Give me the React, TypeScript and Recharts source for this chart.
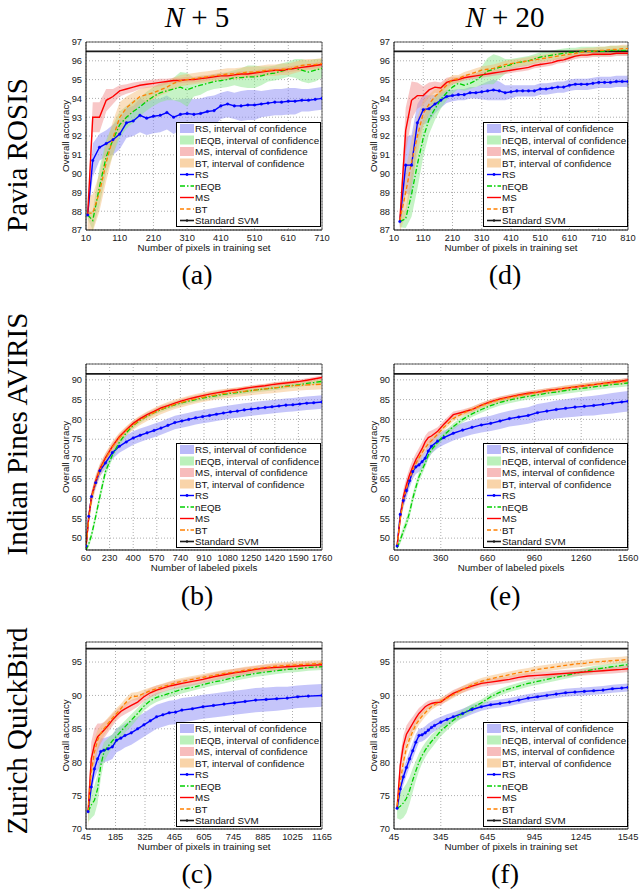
import React from 'react';
import { ComposedChart, Line, Area, XAxis, YAxis, CartesianGrid, ReferenceLine } from 'recharts';

// ---------------- data ----------------
// (a) Pavia ROSIS, N+5
const aX = [15, 30, 50, 70, 90, 110, 130, 150, 170, 190, 210, 230, 250, 270, 290, 310, 330, 350, 370, 390, 410, 430, 450, 470, 490, 510, 530, 550, 570, 590, 610, 630, 650, 670, 690, 710];
const aRS = [87.8, 90.7, 91.4, 91.6, 91.8, 92.1, 92.7, 92.8, 93.1, 92.95, 93.05, 93.1, 93.25, 93.0, 93.15, 93.2, 93.15, 93.2, 93.3, 93.35, 93.6, 93.7, 93.6, 93.6, 93.65, 93.65, 93.7, 93.75, 93.8, 93.8, 93.85, 93.85, 93.9, 93.9, 93.95, 94.0];
const aRSs = [0.2, 0.9, 0.7, 0.7, 0.8, 0.8, 0.8, 0.8, 0.9, 0.9, 0.9, 0.9, 0.9, 0.9, 0.8, 0.8, 0.8, 0.8, 0.8, 0.8, 0.7, 0.7, 0.7, 0.8, 0.8, 0.8, 0.7, 0.7, 0.7, 0.7, 0.7, 0.7, 0.6, 0.6, 0.6, 0.6];
const aNE = [87.8, 87.5, 89.3, 90.9, 91.8, 92.6, 93.0, 93.3, 93.55, 93.85, 94.1, 94.3, 94.4, 94.5, 94.6, 94.45, 94.6, 94.7, 94.8, 94.9, 94.95, 95.0, 95.1, 95.1, 95.15, 95.15, 95.2, 95.3, 95.35, 95.45, 95.55, 95.6, 95.5, 95.4, 95.5, 95.6];
const aNEs = [0.2, 0.5, 1.0, 0.9, 0.8, 0.7, 0.6, 0.6, 0.5, 0.5, 0.5, 0.5, 0.5, 0.6, 0.8, 0.9, 0.5, 0.5, 0.4, 0.4, 0.4, 0.4, 0.4, 0.5, 0.6, 0.6, 0.5, 0.4, 0.4, 0.4, 0.4, 0.5, 0.6, 0.6, 0.6, 0.5];
const aMS = [87.8, 93.0, 93.0, 93.9, 94.1, 94.4, 94.5, 94.6, 94.7, 94.75, 94.8, 94.85, 94.9, 94.95, 94.95, 95.0, 95.0, 95.05, 95.1, 95.15, 95.2, 95.2, 95.25, 95.3, 95.3, 95.35, 95.4, 95.45, 95.5, 95.5, 95.55, 95.6, 95.65, 95.7, 95.75, 95.8];
const aMSs = [0.2, 0.8, 0.8, 0.6, 0.4, 0.3, 0.25, 0.25, 0.2, 0.2, 0.2, 0.2, 0.15, 0.15, 0.15, 0.15, 0.15, 0.15, 0.15, 0.15, 0.15, 0.15, 0.15, 0.15, 0.15, 0.15, 0.15, 0.15, 0.15, 0.15, 0.15, 0.15, 0.15, 0.15, 0.15, 0.15];
const aBT = [87.9, 87.9, 89.0, 90.6, 91.9, 93.0, 93.5, 93.8, 94.1, 94.2, 94.3, 94.45, 94.6, 94.8, 94.95, 95.0, 95.05, 95.1, 95.15, 95.2, 95.25, 95.3, 95.3, 95.35, 95.4, 95.4, 95.45, 95.5, 95.5, 95.55, 95.55, 95.65, 95.75, 95.8, 95.8, 95.85];
const aBTs = [0.9, 1.0, 1.0, 1.0, 0.9, 0.8, 0.6, 0.5, 0.4, 0.4, 0.35, 0.3, 0.3, 0.3, 0.3, 0.3, 0.3, 0.3, 0.3, 0.3, 0.3, 0.3, 0.3, 0.3, 0.3, 0.3, 0.3, 0.3, 0.3, 0.3, 0.3, 0.3, 0.3, 0.3, 0.3, 0.3];
const aXT = [10, 110, 210, 310, 410, 510, 610, 710];

// (d) Pavia ROSIS, N+20
const dX = [30, 50, 70, 90, 110, 130, 150, 170, 190, 210, 230, 250, 270, 290, 310, 330, 350, 370, 390, 410, 430, 450, 470, 490, 510, 530, 550, 570, 590, 610, 630, 650, 670, 690, 710, 730, 750, 770, 790, 810];
const dRS = [87.45, 90.45, 90.45, 92.7, 93.4, 93.45, 93.7, 93.9, 94.1, 94.15,
  94.2, 94.2, 94.3, 94.3, 94.35, 94.4, 94.45, 94.4, 94.3, 94.35,
  94.4, 94.4, 94.4, 94.4, 94.5, 94.5, 94.55, 94.6, 94.6, 94.7,
  94.75, 94.75, 94.75, 94.8, 94.85, 94.85, 94.85, 94.9, 94.9, 94.9];
const dRSs = [0.3, 1.5, 1.6, 1.0, 0.8, 0.7, 0.5, 0.4, 0.35, 0.3,
  0.3, 0.3, 0.3, 0.3, 0.4, 0.5, 0.55, 0.5, 0.4, 0.35,
  0.3, 0.3, 0.3, 0.3, 0.3, 0.3, 0.3, 0.3, 0.3, 0.3,
  0.3, 0.3, 0.3, 0.3, 0.3, 0.3, 0.3, 0.3, 0.3, 0.3];
const dNE = [87.45, 87.6, 88.9, 90.5, 91.9, 92.9, 93.45, 93.95, 94.3, 94.6,
  94.8, 94.7, 94.8, 94.95, 95.2, 95.45, 95.55, 95.65, 95.7, 95.8,
  95.9, 95.95, 96.0, 96.1, 96.2, 96.25, 96.3, 96.35, 96.4, 96.45,
  96.45, 96.5, 96.5, 96.5, 96.5, 96.5, 96.55, 96.55, 96.55, 96.55];
const dNEs = [0.3, 0.5, 1.2, 1.3, 1.0, 0.8, 0.6, 0.5, 0.4, 0.35,
  0.3, 0.3, 0.3, 0.35, 0.5, 0.7, 0.8, 0.6, 0.4, 0.3,
  0.25, 0.25, 0.25, 0.25, 0.25, 0.25, 0.25, 0.25, 0.25, 0.25,
  0.25, 0.25, 0.25, 0.25, 0.25, 0.25, 0.25, 0.25, 0.25, 0.25];
const dMS = [87.5, 92.3, 93.9, 94.15, 94.15, 94.45, 94.6, 94.55, 94.85, 94.95,
  95.0, 95.1, 95.15, 95.2, 95.25, 95.3, 95.35, 95.4, 95.45, 95.5,
  95.55, 95.6, 95.65, 95.75, 95.8, 95.85, 95.9, 96.0, 96.05, 96.15,
  96.25, 96.3, 96.3, 96.35, 96.35, 96.35, 96.35, 96.4, 96.4, 96.4];
const dMSs = [0.3, 1.2, 1.0, 0.7, 0.5, 0.4, 0.3, 0.3, 0.25, 0.2,
  0.15, 0.15, 0.15, 0.15, 0.15, 0.15, 0.15, 0.15, 0.15, 0.15,
  0.15, 0.15, 0.15, 0.15, 0.15, 0.15, 0.15, 0.15, 0.15, 0.15,
  0.15, 0.15, 0.15, 0.15, 0.15, 0.15, 0.15, 0.15, 0.15, 0.15];
const dBT = [87.5, 89.0, 90.6, 92.0, 93.2, 93.7, 94.1, 94.4, 94.7, 95.0,
  95.05, 95.2, 95.3, 95.4, 95.5, 95.55, 95.6, 95.7, 95.8, 95.85,
  95.9, 95.95, 96.0, 96.05, 96.1, 96.15, 96.2, 96.25, 96.3, 96.35,
  96.4, 96.45, 96.5, 96.5, 96.55, 96.55, 96.6, 96.6, 96.65, 96.65];
const dBTs = [0.6, 1.2, 1.2, 1.0, 0.7, 0.5, 0.4, 0.3, 0.3, 0.25,
  0.2, 0.2, 0.2, 0.2, 0.2, 0.2, 0.2, 0.2, 0.2, 0.2,
  0.2, 0.2, 0.2, 0.2, 0.2, 0.2, 0.2, 0.2, 0.2, 0.2,
  0.2, 0.2, 0.2, 0.2, 0.2, 0.2, 0.2, 0.2, 0.2, 0.2];
const dXT = [10, 110, 210, 310, 410, 510, 610, 710, 810];
const pYT = [87, 88, 89, 90, 91, 92, 93, 94, 95, 96, 97];

// (b) Indian Pines AVIRIS, N+5
const bX = [60, 80, 100, 130, 160, 200, 250, 300, 350, 400, 450, 500, 550, 600, 650, 700, 750, 800, 850, 900, 950, 1000, 1050, 1100, 1150, 1200, 1250, 1300, 1350, 1400, 1450, 1500, 1550, 1600, 1650, 1700, 1760];
const bRS = [48.0, 55.5, 60.5, 64.0, 67.0, 69.0, 71.6, 73.2, 74.3, 75.3, 76.0, 76.6, 77.2, 77.8, 78.5, 79.2, 79.6, 80.0, 80.4, 80.7, 81.0, 81.3, 81.6, 81.9, 82.1, 82.4, 82.6, 82.8, 83.0, 83.2, 83.4, 83.6, 83.7, 83.9, 84.1, 84.2, 84.4];
const bRSs = [0.5, 1.0, 1.2, 1.3, 1.4, 1.5, 1.6, 1.6, 1.7, 1.7, 1.7, 1.7, 1.7, 1.7, 1.7, 1.7, 1.7, 1.7, 1.7, 1.7, 1.7, 1.7, 1.7, 1.7, 1.7, 1.7, 1.7, 1.7, 1.7, 1.7, 1.7, 1.7, 1.7, 1.7, 1.7, 1.7, 1.7];
const bNE = [47.0, 48.5, 50.8, 55.5, 60.5, 66.8, 71.0, 74.2, 76.6, 78.5, 79.8, 80.8, 81.7, 82.5, 83.1, 83.7, 84.2, 84.6, 85.0, 85.4, 85.7, 86.0, 86.3, 86.6, 86.8, 87.0, 87.3, 87.5, 87.7, 87.9, 88.1, 88.4, 88.6, 88.8, 89.1, 89.3, 89.6];
const bNEs = [0.3, 0.8, 1.0, 1.2, 1.2, 1.2, 1.0, 0.9, 0.8, 0.7, 0.7, 0.6, 0.6, 0.6, 0.6, 0.6, 0.6, 0.6, 0.6, 0.6, 0.6, 0.6, 0.6, 0.6, 0.6, 0.6, 0.6, 0.6, 0.6, 0.6, 0.6, 0.6, 0.6, 0.6, 0.6, 0.6, 0.6];
const bMS = [47.5, 55.5, 60.5, 64.5, 67.5, 70.3, 73.2, 75.6, 77.4, 79.0, 80.2, 81.2, 82.0, 82.9, 83.5, 84.1, 84.7, 85.2, 85.6, 86.0, 86.4, 86.7, 87.0, 87.3, 87.5, 87.8, 88.1, 88.3, 88.5, 88.8, 89.0, 89.2, 89.4, 89.6, 89.9, 90.2, 90.6];
const bMSs = [0.3, 1.0, 1.2, 1.2, 1.1, 1.0, 0.9, 0.8, 0.7, 0.7, 0.6, 0.6, 0.6, 0.6, 0.5, 0.5, 0.5, 0.5, 0.5, 0.5, 0.5, 0.5, 0.5, 0.5, 0.5, 0.5, 0.5, 0.5, 0.5, 0.5, 0.5, 0.5, 0.5, 0.5, 0.5, 0.5, 0.5];
const bBT = [47.5, 55.0, 60.0, 64.2, 67.2, 70.0, 73.0, 75.3, 77.1, 78.6, 79.8, 80.8, 81.7, 82.5, 83.2, 83.8, 84.3, 84.8, 85.2, 85.6, 85.9, 86.2, 86.5, 86.7, 86.9, 87.1, 87.3, 87.5, 87.7, 87.9, 88.1, 88.3, 88.5, 88.6, 88.7, 88.8, 88.9];
const bBTs = [0.5, 1.5, 1.8, 1.8, 1.6, 1.5, 1.4, 1.3, 1.2, 1.2, 1.2, 1.2, 1.2, 1.2, 1.2, 1.2, 1.2, 1.2, 1.2, 1.2, 1.2, 1.2, 1.2, 1.2, 1.2, 1.2, 1.2, 1.2, 1.2, 1.3, 1.3, 1.3, 1.3, 1.3, 1.3, 1.3, 1.3];
const bXT = [60, 230, 400, 570, 740, 910, 1080, 1250, 1420, 1590, 1760];

// (e) Indian Pines AVIRIS, N+20
const eX = [80, 100, 120, 140, 160, 180, 200, 220, 240, 260, 280, 300, 340, 380, 440, 500, 560, 620, 680, 740, 800, 860, 920, 980, 1040, 1100, 1160, 1220, 1280, 1340, 1400, 1460, 1520, 1560];
const eRS = [48.0, 56.0, 59.5, 62.0, 64.5, 66.8, 68.0, 68.5, 69.3, 70.2, 72.0, 73.2, 74.5, 75.4, 76.5, 77.3, 78.0, 78.6, 79.0, 79.6, 80.2, 80.6, 81.0, 81.7, 82.1, 82.5, 82.8, 83.1, 83.3, 83.5, 83.8, 84.1, 84.4, 84.6];
const eRSs = [0.5, 1.5, 1.8, 1.8, 1.8, 1.8, 1.8, 1.8, 1.8, 1.8, 1.8, 1.8, 1.8, 1.8, 1.8, 1.8, 1.8, 1.9, 1.9, 2.0, 2.0, 2.1, 2.1, 2.2, 2.2, 2.3, 2.3, 2.4, 2.4, 2.5, 2.5, 2.6, 2.6, 2.6];
const eNE = [47.5, 49.5, 51.8, 53.8, 56.5, 60.0, 62.8, 65.5, 67.2, 69.0, 71.0, 72.3, 74.2, 76.0, 78.2, 80.0, 81.4, 82.5, 83.5, 84.3, 84.9, 85.4, 85.8, 86.2, 86.6, 86.9, 87.3, 87.6, 87.9, 88.2, 88.5, 88.8, 89.0, 89.2];
const eNEs = [0.3, 1.0, 1.2, 1.2, 1.3, 1.3, 1.3, 1.2, 1.2, 1.1, 1.0, 1.0, 0.9, 0.8, 0.8, 0.8, 0.8, 0.8, 0.8, 0.8, 0.8, 0.8, 0.8, 0.8, 0.8, 0.8, 0.8, 0.8, 0.8, 0.8, 0.8, 0.8, 0.8, 0.8];
const eMS = [48.0, 55.0, 60.5, 63.5, 66.0, 68.0, 69.8, 71.2, 72.6, 74.3, 75.4, 75.8, 77.0, 78.8, 81.2, 81.8, 82.5, 83.6, 84.5, 85.2, 85.7, 86.2, 86.6, 86.9, 87.3, 87.6, 87.9, 88.2, 88.5, 88.8, 89.1, 89.4, 89.7, 90.0];
const eMSs = [0.3, 1.5, 1.8, 1.8, 1.8, 1.8, 1.6, 1.6, 1.6, 1.6, 1.5, 1.4, 1.0, 0.9, 0.8, 0.7, 0.7, 0.6, 0.6, 0.6, 0.6, 0.6, 0.6, 0.6, 0.6, 0.6, 0.6, 0.6, 0.6, 0.6, 0.6, 0.6, 0.6, 0.6];
const eBT = [48.0, 55.0, 59.5, 62.5, 65.0, 67.0, 68.8, 70.3, 71.6, 72.8, 73.8, 74.6, 76.3, 78.0, 80.2, 81.5, 82.5, 83.5, 84.3, 85.0, 85.5, 86.0, 86.4, 86.8, 87.2, 87.5, 87.9, 88.2, 88.5, 88.8, 89.0, 89.3, 89.5, 89.7];
const eBTs = [0.3, 1.2, 1.4, 1.4, 1.4, 1.3, 1.2, 1.2, 1.1, 1.0, 1.0, 0.9, 0.8, 0.8, 0.7, 0.7, 0.7, 0.7, 0.7, 0.7, 0.7, 0.7, 0.7, 0.7, 0.7, 0.7, 0.7, 0.7, 0.7, 0.7, 0.7, 0.7, 0.7, 0.7];
const eXT = [60, 360, 660, 960, 1260, 1560];
const iYT = [50, 55, 60, 65, 70, 75, 80, 85, 90];

// (c) Zurich QuickBird, N+5
const cX = [55, 70, 85, 100, 115, 130, 150, 170, 190, 210, 230, 260, 290, 320, 350, 380, 410, 440, 470, 500, 550, 600, 650, 700, 750, 800, 850, 900, 950, 1000, 1050, 1100, 1165];
const cRS = [72.6, 76.3, 79.0, 80.5, 81.6, 81.8, 82.0, 82.3, 83.3, 83.6, 84.0, 84.4, 85.0, 85.6, 86.2, 86.8, 87.1, 87.4, 87.5, 87.8, 88.0, 88.3, 88.5, 88.7, 88.9, 89.1, 89.3, 89.4, 89.5, 89.6, 89.8, 89.9, 90.0];
const cRSs = [0.4, 1.0, 1.5, 1.8, 2.0, 1.8, 1.8, 1.8, 1.8, 1.8, 1.8, 1.8, 1.8, 1.8, 1.8, 1.8, 1.8, 1.8, 1.8, 1.8, 1.8, 1.8, 1.8, 1.8, 1.8, 1.8, 1.8, 1.8, 1.8, 1.7, 1.7, 1.7, 1.7];
const cNE = [72.6, 73.6, 74.3, 76.0, 79.5, 81.5, 82.4, 83.2, 83.9, 84.6, 85.3, 86.3, 87.3, 88.4, 89.2, 89.7, 90.0, 90.3, 90.6, 90.9, 91.2, 91.6, 92.0, 92.3, 92.7, 93.0, 93.3, 93.5, 93.7, 93.9, 94.0, 94.2, 94.3];
const cNEs = [1.5, 2.0, 2.2, 2.2, 2.0, 1.5, 1.2, 1.0, 1.0, 1.0, 0.9, 0.9, 0.8, 0.7, 0.7, 0.7, 0.6, 0.6, 0.6, 0.6, 0.5, 0.5, 0.5, 0.5, 0.5, 0.5, 0.5, 0.5, 0.5, 0.5, 0.5, 0.5, 0.5];
const cMS = [72.6, 80.5, 82.6, 83.8, 84.3, 84.8, 85.5, 86.3, 87.0, 87.6, 88.0, 88.5, 89.0, 89.8, 90.4, 90.8, 91.1, 91.4, 91.6, 91.8, 92.1, 92.4, 92.8, 93.1, 93.4, 93.6, 93.9, 94.1, 94.2, 94.3, 94.4, 94.5, 94.6];
const cMSs = [0.5, 2.5, 2.5, 2.0, 1.5, 1.2, 1.0, 0.9, 0.8, 0.8, 0.8, 0.8, 0.7, 0.7, 0.7, 0.7, 0.6, 0.6, 0.6, 0.6, 0.6, 0.6, 0.6, 0.6, 0.6, 0.6, 0.5, 0.5, 0.5, 0.5, 0.5, 0.5, 0.5];
const cBT = [72.6, 78.5, 81.5, 83.3, 84.3, 85.0, 85.8, 86.6, 87.3, 88.0, 88.8, 89.8, 89.9, 90.3, 90.7, 91.0, 91.3, 91.6, 91.9, 92.1, 92.4, 92.7, 93.0, 93.3, 93.5, 93.8, 94.0, 94.2, 94.4, 94.5, 94.6, 94.7, 94.8];
const cBTs = [2.5, 2.5, 2.0, 1.5, 1.2, 1.0, 0.9, 0.8, 0.8, 0.7, 0.7, 0.6, 0.6, 0.6, 0.5, 0.5, 0.5, 0.5, 0.5, 0.5, 0.5, 0.5, 0.5, 0.5, 0.5, 0.5, 0.5, 0.5, 0.5, 0.5, 0.5, 0.5, 0.5];
const cXT = [45, 185, 325, 465, 605, 745, 885, 1025, 1165];

// (f) Zurich QuickBird, N+20
const fX = [65, 85, 105, 125, 145, 165, 185, 205, 225, 245, 265, 285, 305, 345, 385, 425, 485, 545, 605, 665, 725, 785, 845, 905, 965, 1025, 1085, 1145, 1205, 1265, 1325, 1385, 1445, 1505, 1545];
const fRS = [73.1, 76.0, 77.8, 79.2, 80.5, 81.7, 83.0, 84.0, 84.1, 84.4, 84.8, 85.2, 85.5, 86.0, 86.4, 86.8, 87.3, 87.9, 88.3, 88.6, 88.8, 89.0, 89.3, 89.6, 89.8, 90.0, 90.2, 90.4, 90.5, 90.6, 90.7, 90.8, 91.0, 91.1, 91.2];
const fRSs = [0.5, 1.0, 1.2, 1.2, 1.2, 1.2, 1.2, 1.0, 1.0, 1.0, 1.0, 0.9, 0.9, 0.8, 0.8, 0.7, 0.7, 0.7, 0.6, 0.6, 0.6, 0.6, 0.6, 0.6, 0.6, 0.6, 0.6, 0.6, 0.6, 0.6, 0.6, 0.6, 0.6, 0.6, 0.6];
const fNE = [73.1, 73.4, 73.9, 74.6, 75.8, 77.3, 78.7, 80.0, 81.0, 81.8, 82.5, 83.1, 83.6, 84.7, 85.5, 86.3, 87.3, 88.1, 88.9, 89.8, 90.5, 91.0, 91.4, 91.8, 92.1, 92.4, 92.7, 93.0, 93.3, 93.6, 93.9, 94.1, 94.3, 94.5, 94.6];
const fNEs = [1.5, 2.0, 2.2, 2.2, 2.0, 1.8, 1.5, 1.3, 1.2, 1.1, 1.0, 1.0, 0.9, 0.8, 0.7, 0.6, 0.6, 0.6, 0.5, 0.5, 0.5, 0.5, 0.5, 0.5, 0.5, 0.5, 0.5, 0.5, 0.5, 0.5, 0.5, 0.5, 0.5, 0.5, 0.5];
const fMS = [73.3, 79.5, 82.5, 84.2, 85.0, 85.8, 86.6, 87.3, 87.8, 88.3, 88.6, 88.8, 88.9, 89.0, 89.7, 90.3, 90.9, 91.4, 91.8, 92.0, 92.2, 92.4, 92.7, 92.9, 93.0, 93.1, 93.2, 93.3, 93.4, 93.5, 93.6, 93.7, 93.8, 93.9, 94.0];
const fMSs = [0.5, 1.5, 1.5, 1.3, 1.2, 1.0, 0.9, 0.8, 0.7, 0.6, 0.6, 0.5, 0.5, 0.5, 0.5, 0.5, 0.5, 0.5, 0.5, 0.5, 0.5, 0.5, 0.5, 0.5, 0.5, 0.5, 0.5, 0.5, 0.5, 0.5, 0.5, 0.5, 0.5, 0.5, 0.5];
const fBT = [73.5, 77.0, 80.0, 82.2, 83.5, 84.6, 85.6, 86.3, 86.9, 87.4, 87.9, 88.3, 88.6, 89.2, 89.6, 90.1, 90.9, 91.6, 92.1, 92.5, 92.8, 93.1, 93.4, 93.6, 93.9, 94.1, 94.3, 94.5, 94.7, 94.8, 95.0, 95.1, 95.2, 95.3, 95.4];
const fBTs = [0.8, 1.2, 1.2, 1.0, 0.9, 0.8, 0.8, 0.7, 0.7, 0.6, 0.6, 0.5, 0.5, 0.5, 0.5, 0.5, 0.5, 0.5, 0.5, 0.5, 0.5, 0.5, 0.5, 0.5, 0.5, 0.5, 0.5, 0.5, 0.5, 0.5, 0.5, 0.5, 0.5, 0.5, 0.5];
const fXT = [45, 345, 645, 945, 1245, 1545];
const zYT = [70, 75, 80, 85, 90, 95];

// Standard SVM accuracy per dataset row
const svmLevels = [96.5, 91.5, 97.0];

// texts
const legendLabels = ['RS, interval of confidence', 'nEQB, interval of confidence', 'MS, interval of confidence', 'BT, interval of confidence', 'RS', 'nEQB', 'MS', 'BT', 'Standard SVM'];
const rowLabels = ['Pavia ROSIS', 'Indian Pines AVIRIS', 'Zurich QuickBird'];
const colTitleN = 'N';
const colTitleRest = [' + 5', ' + 20'];
const xTitles = ['Number of pixels in training set', 'Number of labeled pixels', 'Number of pixels in training set'];
const yTitle = 'Overall accuracy';

// ---------------- styling / layout ----------------
const C = { rs: '#0000ff', ne: '#00d000', ms: '#ff0000', bt: '#ff8000', svm: '#1a1a1a' };
const BAND = { rs: '#8c8cf5', ne: '#8ee88e', ms: '#f29090', bt: '#f5b870' };
const SANS = '"Liberation Sans", Arial, Helvetica, sans-serif';
const SERIF = '"Liberation Serif", "Times New Roman", serif';

const COL_LEFT = [86, 394];
const COL_W = [236, 234];
const ROW_TOP = [42, 364, 642];
const ROW_H = [188, 186, 187];
const LEG_LEFT = [176, 483];
const LEG_TOP = [122, 443, 722];
const LEG_W = 145;
const LEG_H = 105;
const CAPTION_X = [197, 505];
const CAPTION_Y = [284, 605, 883];
const ROWLABEL_Y = [155, 434, 731];
const YTITLE_X = [65, 373];

type Panel = {
  cap: string; row: number; col: number;
  x: number[]; rs: number[]; rsS: number[]; ne: number[]; neS: number[];
  ms: number[]; msS: number[]; bt: number[]; btS: number[];
  xTicks: number[]; yTicks: number[]; yDomain: [number, number]; btDash: string;
};

const panels: Panel[] = [
  { cap: '(a)', row: 0, col: 0, x: aX, rs: aRS, rsS: aRSs, ne: aNE, neS: aNEs, ms: aMS, msS: aMSs, bt: aBT, btS: aBTs, xTicks: aXT, yTicks: pYT, yDomain: [87, 97], btDash: '4 2.5' },
  { cap: '(b)', row: 1, col: 0, x: bX, rs: bRS, rsS: bRSs, ne: bNE, neS: bNEs, ms: bMS, msS: bMSs, bt: bBT, btS: bBTs, xTicks: bXT, yTicks: iYT, yDomain: [47, 94], btDash: '5 2 1.5 2' },
  { cap: '(c)', row: 2, col: 0, x: cX, rs: cRS, rsS: cRSs, ne: cNE, neS: cNEs, ms: cMS, msS: cMSs, bt: cBT, btS: cBTs, xTicks: cXT, yTicks: zYT, yDomain: [70, 98], btDash: '4 2.5' },
  { cap: '(d)', row: 0, col: 1, x: dX, rs: dRS, rsS: dRSs, ne: dNE, neS: dNEs, ms: dMS, msS: dMSs, bt: dBT, btS: dBTs, xTicks: dXT, yTicks: pYT, yDomain: [87, 97], btDash: '4 2.5' },
  { cap: '(e)', row: 1, col: 1, x: eX, rs: eRS, rsS: eRSs, ne: eNE, neS: eNEs, ms: eMS, msS: eMSs, bt: eBT, btS: eBTs, xTicks: eXT, yTicks: iYT, yDomain: [47, 94], btDash: '4 2.5' },
  { cap: '(f)', row: 2, col: 1, x: fX, rs: fRS, rsS: fRSs, ne: fNE, neS: fNEs, ms: fMS, msS: fMSs, bt: fBT, btS: fBTs, xTicks: fXT, yTicks: zYT, yDomain: [70, 98], btDash: '4 2.5' },
];

function buildRows(p: Panel) {
  return p.x.map((xv, i) => ({
    x: xv,
    rs: p.rs[i], ne: p.ne[i], ms: p.ms[i], bt: p.bt[i],
    rsBand: [p.rs[i] - p.rsS[i], p.rs[i] + p.rsS[i]],
    neBand: [p.ne[i] - p.neS[i], p.ne[i] + p.neS[i]],
    msBand: [p.ms[i] - p.msS[i], p.ms[i] + p.msS[i]],
    btBand: [p.bt[i] - p.btS[i], p.bt[i] + p.btS[i]],
  }));
}

const ML = 45, MT = 8, MR = 14, XH = 32;

function PanelChart({ p }: { p: Panel }) {
  const data = buildRows(p);
  const left = COL_LEFT[p.col];
  const top = ROW_TOP[p.row];
  const w = COL_W[p.col];
  const h = ROW_H[p.row];
  const xMin = p.xTicks[0];
  const xMax = p.xTicks[p.xTicks.length - 1];
  const svm = svmLevels[p.row];
  const tickStyle = { fontSize: 9.3, fill: '#1a1a1a', fontFamily: SANS };
  return (
    <div style={{ position: 'absolute', left: left - ML, top: top - MT }}>
      <ComposedChart width={w + ML + MR} height={h + MT + XH} data={data} margin={{ top: MT, right: MR, bottom: 0, left: 0 }}>
        <CartesianGrid stroke="#8a8a8a" strokeDasharray="1 2" strokeWidth={0.7} />
        <XAxis dataKey="x" type="number" domain={[xMin, xMax]} ticks={p.xTicks} interval={0} allowDataOverflow height={XH}
          tickLine={false} tickSize={2} tickMargin={2} axisLine={{ stroke: '#000', strokeWidth: 1 }} tick={tickStyle} />
        <YAxis type="number" domain={p.yDomain} ticks={p.yTicks} interval={0} allowDataOverflow width={ML}
          tickLine={false} tickSize={3} tickMargin={1} axisLine={{ stroke: '#000', strokeWidth: 1 }} tick={tickStyle} />
        <Area type="linear" dataKey="rsBand" stroke="none" fill={BAND.rs} fillOpacity={0.5} isAnimationActive={false} dot={false} activeDot={false} />
        <Area type="linear" dataKey="neBand" stroke="none" fill={BAND.ne} fillOpacity={0.5} isAnimationActive={false} dot={false} activeDot={false} />
        <Area type="linear" dataKey="msBand" stroke="none" fill={BAND.ms} fillOpacity={0.5} isAnimationActive={false} dot={false} activeDot={false} />
        <Area type="linear" dataKey="btBand" stroke="none" fill={BAND.bt} fillOpacity={0.45} isAnimationActive={false} dot={false} activeDot={false} />
        <ReferenceLine y={svm} stroke={C.svm} strokeWidth={1.8} />
        <ReferenceLine y={p.yDomain[1]} stroke="#333" strokeWidth={0.8} />
        <ReferenceLine x={xMax} stroke="#333" strokeWidth={0.8} />
        <Line type="linear" dataKey="rs" stroke={C.rs} strokeWidth={1.4} isAnimationActive={false}
          dot={{ r: 1.3, fill: C.rs, stroke: C.rs, strokeWidth: 0.4 }} activeDot={false} />
        <Line type="linear" dataKey="ne" stroke={C.ne} strokeWidth={1.3} strokeDasharray="5 2 1.5 2" isAnimationActive={false} dot={false} activeDot={false} />
        <Line type="linear" dataKey="ms" stroke={C.ms} strokeWidth={1.4} isAnimationActive={false} dot={false} activeDot={false} />
        <Line type="linear" dataKey="bt" stroke={C.bt} strokeWidth={1.3} strokeDasharray={p.btDash} isAnimationActive={false} dot={false} activeDot={false} />
      </ComposedChart>
    </div>
  );
}

function LegendBox({ p }: { p: Panel }) {
  const left = LEG_LEFT[p.col];
  const top = LEG_TOP[p.row];
  const pitch = 11.5;
  const y0 = 6.5;
  const bandFills = [BAND.rs, BAND.ne, BAND.ms, BAND.bt];
  return (
    <svg style={{ position: 'absolute', left, top }} width={LEG_W} height={LEG_H}>
      <rect x={0.5} y={0.5} width={LEG_W - 1} height={LEG_H - 1} fill="#fff" stroke="#000" strokeWidth={1} />
      {legendLabels.map((label, i) => {
        const cy = y0 + i * pitch;
        let sw: React.ReactNode = null;
        if (i < 4) {
          sw = <rect x={4} y={cy - 4.5} width={14} height={9} fill={bandFills[i]} fillOpacity={0.6} />;
        } else if (i === 4) {
          sw = <g><line x1={4} y1={cy} x2={18} y2={cy} stroke={C.rs} strokeWidth={1.4} /><circle cx={11} cy={cy} r={1.4} fill={C.rs} /></g>;
        } else if (i === 5) {
          sw = <line x1={4} y1={cy} x2={18} y2={cy} stroke={C.ne} strokeWidth={1.3} strokeDasharray="5 2 1.5 2" />;
        } else if (i === 6) {
          sw = <line x1={4} y1={cy} x2={18} y2={cy} stroke={C.ms} strokeWidth={1.4} />;
        } else if (i === 7) {
          sw = <line x1={4} y1={cy} x2={18} y2={cy} stroke={C.bt} strokeWidth={1.3} strokeDasharray={p.btDash} />;
        } else {
          sw = <g><line x1={4} y1={cy} x2={18} y2={cy} stroke={C.svm} strokeWidth={1.6} /><circle cx={11} cy={cy} r={1.2} fill={C.svm} /></g>;
        }
        return (
          <g key={label}>
            {sw}
            <text x={19} y={cy} dominantBaseline="central" fontSize={9.8} fontFamily={SANS} fill="#111">{label}</text>
          </g>
        );
      })}
    </svg>
  );
}

function Overlay() {
  return (
    <svg style={{ position: 'absolute', left: 0, top: 0, pointerEvents: 'none' }} width={640} height={893}>
      {colTitleRest.map((rest, c) => (
        <text key={'t' + c} x={CAPTION_X[c]} y={27} textAnchor="middle" fontSize={29} fontFamily={SERIF} fill="#000">
          <tspan fontStyle="italic">{colTitleN}</tspan>
          <tspan>{rest}</tspan>
        </text>
      ))}
      {rowLabels.map((lab, r) => (
        <text key={'r' + r} transform={`translate(27,${ROWLABEL_Y[r]}) rotate(-90)`} textAnchor="middle" fontSize={29} fontFamily={SERIF} fill="#000">{lab}</text>
      ))}
      {panels.map((p) => {
        const left = COL_LEFT[p.col];
        const top = ROW_TOP[p.row];
        const w = COL_W[p.col];
        const h = ROW_H[p.row];
        return (
          <g key={'o' + p.cap}>
            <text x={CAPTION_X[p.col]} y={CAPTION_Y[p.row]} textAnchor="middle" fontSize={28} fontFamily={SERIF} fill="#000">{p.cap}</text>
            <text x={left + w / 2} y={top + h + 17} textAnchor="middle" dominantBaseline="central" fontSize={9.7} fontFamily={SANS} fill="#111">{xTitles[p.row]}</text>
            <text transform={`translate(${YTITLE_X[p.col]},${top + h / 2}) rotate(-90)`} textAnchor="middle" dominantBaseline="central" fontSize={9.7} fontFamily={SANS} fill="#111">{yTitle}</text>
          </g>
        );
      })}
    </svg>
  );
}

export default function App() {
  return (
    <div style={{ position: 'absolute', left: 0, top: 0, width: 640, height: 893, background: '#fff', overflow: 'hidden' }}>
      {panels.map((p) => <PanelChart key={p.cap} p={p} />)}
      {panels.map((p) => <LegendBox key={'l' + p.cap} p={p} />)}
      <Overlay />
    </div>
  );
}
